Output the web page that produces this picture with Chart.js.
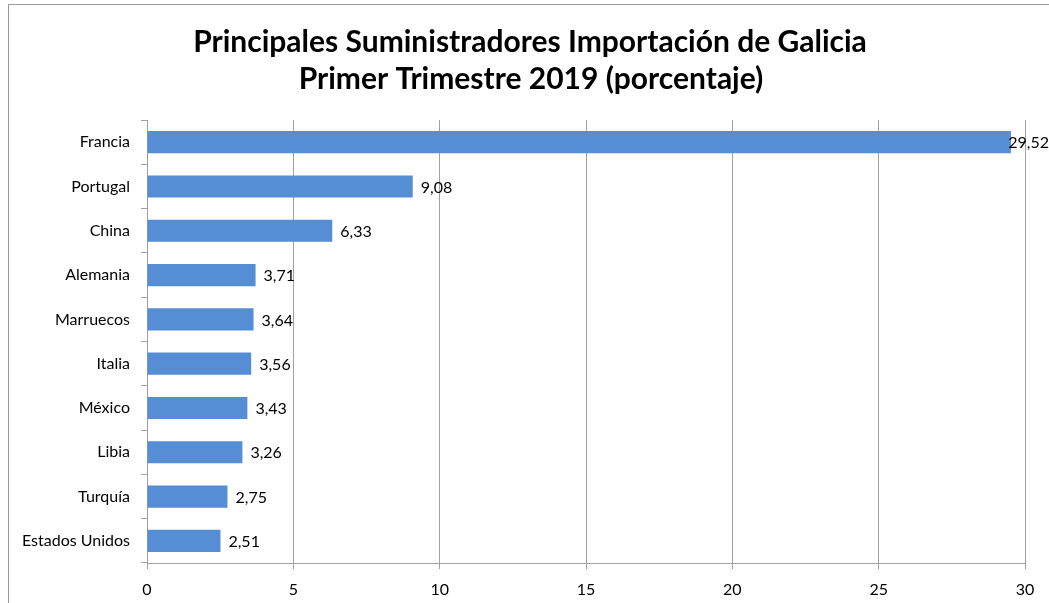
<!DOCTYPE html>
<html>
<head>
<meta charset="utf-8">
<script src="https://cdn.jsdelivr.net/npm/chart.js@4"></script>
<style>
  html, body { margin: 0; padding: 0; background: #fff; }
  #wrap { width: 1049px; height: 603px; position: relative; }
</style>
</head>
<body>
<div id="wrap"><canvas id="barChart"></canvas></div>
<script>
const paises = ['Francia', 'Portugal', 'China', 'Alemania', 'Marruecos', 'Italia', 'México', 'Libia', 'Turquía', 'Estados Unidos'];
const porcentajes = [29.52, 9.08, 6.33, 3.71, 3.64, 3.56, 3.43, 3.26, 2.75, 2.51];
const ticksX = [0, 5, 10, 15, 20, 25, 30];
const titulo = ['Principales Suministradores Importación de Galicia', 'Primer Trimestre 2019 (porcentaje)'];

const fuente = 'Lato, "Liberation Sans", sans-serif';
const gris = '#a0a0a0';

// marco gris, fondo blanco y titulo
const marco = {
  id: 'marco',
  beforeDraw(chart) {
    const ctx = chart.ctx;
    ctx.save();
    ctx.fillStyle = '#fff';
    ctx.fillRect(0, 0, chart.width, chart.height);
    ctx.strokeStyle = '#9a9a9a';
    ctx.lineWidth = 1;
    ctx.strokeRect(8.5, 4.5, 1200, 800);
    ctx.fillStyle = '#000';
    ctx.font = 'bold 30px ' + fuente;
    ctx.textAlign = 'center';
    ctx.textBaseline = 'middle';
    ctx.fillText(titulo[0], 530, 42);
    ctx.fillText(titulo[1], 531, 79);
    ctx.restore();
  }
};

// etiquetas de valor con coma decimal
const etiquetas = {
  id: 'etiquetas',
  afterDatasetsDraw(chart) {
    const ctx = chart.ctx;
    const meta = chart.getDatasetMeta(0);
    ctx.save();
    ctx.font = '16px ' + fuente;
    ctx.fillStyle = '#000';
    ctx.textBaseline = 'middle';
    meta.data.forEach((bar, i) => {
      const txt = porcentajes[i].toFixed(2).replace('.', ',');
      const w = ctx.measureText(txt).width;
      const x = Math.min(bar.x + 8, chart.width - w);
      ctx.fillText(txt, x, bar.y + 1);
    });
    ctx.restore();
  }
};

new Chart(document.getElementById('barChart'), {
  type: 'bar',
  data: {
    labels: paises,
    datasets: [{
      data: porcentajes,
      backgroundColor: '#558ed5',
      borderWidth: 0,
      barPercentage: 0.5,
      categoryPercentage: 1
    }]
  },
  options: {
    indexAxis: 'y',
    responsive: true,
    maintainAspectRatio: false,
    animation: false,
    layout: { padding: { left: 0, right: 24, top: 120, bottom: 0 } },
    plugins: {
      legend: { display: false },
      tooltip: { enabled: false },
      title: { display: false }
    },
    scales: {
      x: {
        min: 0,
        max: 30,
        afterBuildTicks(scale) { scale.ticks = ticksX.map(v => ({ value: v })); },
        afterFit(scale) { scale.height = 40; },
        grid: { color: gris, tickLength: 6, drawOnChartArea: true },
        border: { color: gris },
        ticks: { color: '#000', padding: 11, font: { family: fuente, size: 16 } }
      },
      y: {
        afterFit(scale) { scale.width = 147; },
        grid: { color: gris, tickLength: 6, drawOnChartArea: false, offset: true },
        border: { color: gris },
        ticks: { color: '#000', padding: 11, font: { family: fuente, size: 16 } }
      }
    }
  },
  plugins: [marco, etiquetas]
});
</script>
</body>
</html>
